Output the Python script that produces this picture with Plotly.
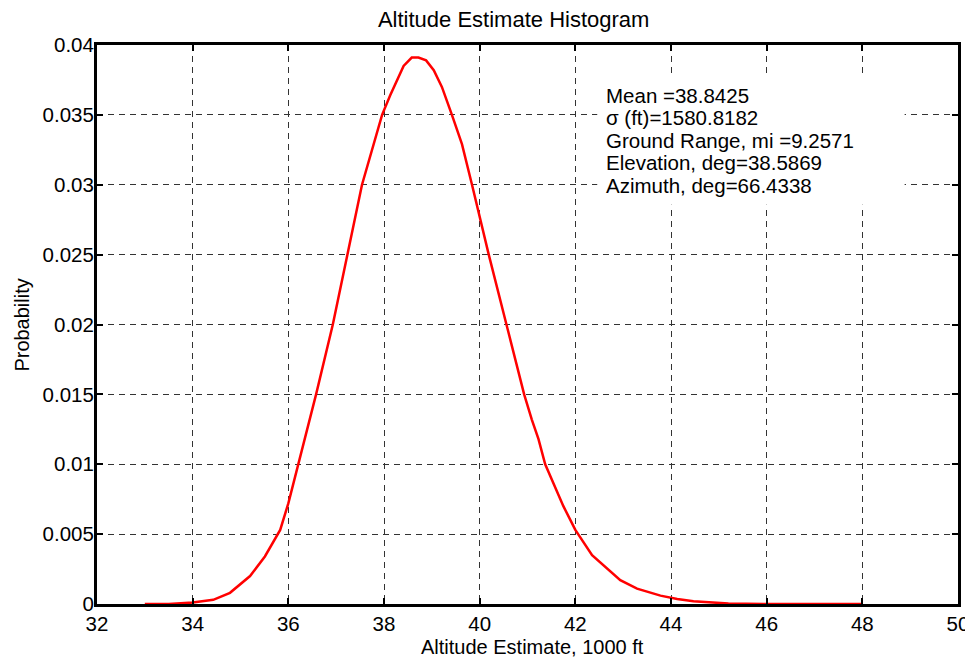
import plotly.graph_objects as go

# Altitude estimate (1000 ft) and probability
altitude = [33.0, 33.5, 34.0, 34.43, 34.78, 35.2, 35.51, 35.83, 36.0, 36.21,
            36.46, 36.58, 36.93, 37.24, 37.54, 37.96, 38.13, 38.41, 38.58, 38.72,
            38.88, 39.04, 39.21, 39.42, 39.63, 39.84, 40.19, 40.56, 40.93, 41.09,
            41.23, 41.37, 41.48, 41.75, 42.0, 42.35, 42.94, 43.29, 43.78, 44.13,
            44.47, 44.89, 45.2, 46.0, 47.0, 48.0]
probability = [0.0, 0.0, 0.0001, 0.0003, 0.0008, 0.002, 0.0034, 0.0053, 0.0072, 0.0100,
               0.0132, 0.0150, 0.0200, 0.0250, 0.0300, 0.0350, 0.0364, 0.0385, 0.0391, 0.0391,
               0.0389, 0.0382, 0.0370, 0.0350, 0.0329, 0.0300, 0.0250, 0.0200, 0.0150, 0.0132,
               0.0118, 0.0100, 0.0091, 0.0070, 0.0053, 0.0035, 0.0017, 0.0011, 0.0006, 0.00036,
               0.0002, 0.00012, 0.00003, 0.0, 0.0, 0.0]

x_ticks = [32, 34, 36, 38, 40, 42, 44, 46, 48, 50]
x_tick_labels = ["32", "34", "36", "38", "40", "42", "44", "46", "48", "50"]
y_ticks = [0, 0.005, 0.01, 0.015, 0.02, 0.025, 0.03, 0.035, 0.04]
y_tick_labels = ["0", "0.005", "0.01", "0.015", "0.02", "0.025", "0.03", "0.035", "0.04"]

info_lines = ["Mean =38.8425", "σ (ft)=1580.8182", "Ground Range, mi =9.2571",
              "Elevation, deg=38.5869", "Azimuth, deg=66.4338"]

FONT = "Liberation Sans, Arial, sans-serif"

fig = go.Figure()
fig.add_trace(go.Scatter(x=altitude, y=probability, mode="lines",
                         line=dict(color="#ff0000", width=2.5), showlegend=False))

axis_common = dict(
    showline=True, linecolor="black", linewidth=3, mirror="ticks",
    ticks="inside", ticklen=6, tickwidth=2, tickcolor="black",
    showgrid=True, gridcolor="#333333", gridwidth=1, griddash="6px,5px",
    zeroline=False, automargin=False,
    tickfont=dict(family=FONT, size=20.5, color="black"),
)

fig.update_xaxes(range=[32, 50], tickvals=x_ticks, ticktext=x_tick_labels,
                 ticklabelstandoff=-1, **axis_common)
fig.update_yaxes(range=[0, 0.04], tickvals=y_ticks, ticktext=y_tick_labels,
                 ticklabelstandoff=-4, **axis_common)

# axis titles as annotations for exact placement
fig.add_annotation(text="Altitude Estimate, 1000 ft", xref="paper", yref="paper",
                   x=0.506, y=-0.0769, xanchor="center", yanchor="middle", showarrow=False,
                   font=dict(family=FONT, size=20, color="black"))
fig.add_annotation(text="Probability", xref="paper", yref="paper", textangle=-90,
                   x=-0.0871, y=0.498, xanchor="center", yanchor="middle", showarrow=False,
                   font=dict(family=FONT, size=20, color="black"))

# white info box covering the grid
fig.add_shape(type="rect", xref="paper", yref="paper",
              x0=0.581, x1=0.938, y0=0.714, y1=0.946,
              fillcolor="white", line=dict(width=0), layer="above")

line_y = [0.909, 0.8695, 0.8283, 0.789, 0.7479]
for txt, yy in zip(info_lines, line_y):
    fig.add_annotation(text=txt, xref="paper", yref="paper", x=0.589, y=yy,
                       xanchor="left", yanchor="middle", showarrow=False,
                       font=dict(family=FONT, size=20.5, color="black"))

# page body has an 8px margin: figure spans 8..973 x 8..659
fig.update_layout(
    width=965, height=651,
    margin=dict(l=89, r=15, t=37, b=55),
    paper_bgcolor="white", plot_bgcolor="white",
    title=dict(text="Altitude Estimate Histogram", x=0.524, xanchor="center",
               y=0.983, yanchor="middle", automargin=False,
               font=dict(family=FONT, size=22, color="black")),
    font=dict(family=FONT, color="black"),
)

fig.write_html("out.html")
